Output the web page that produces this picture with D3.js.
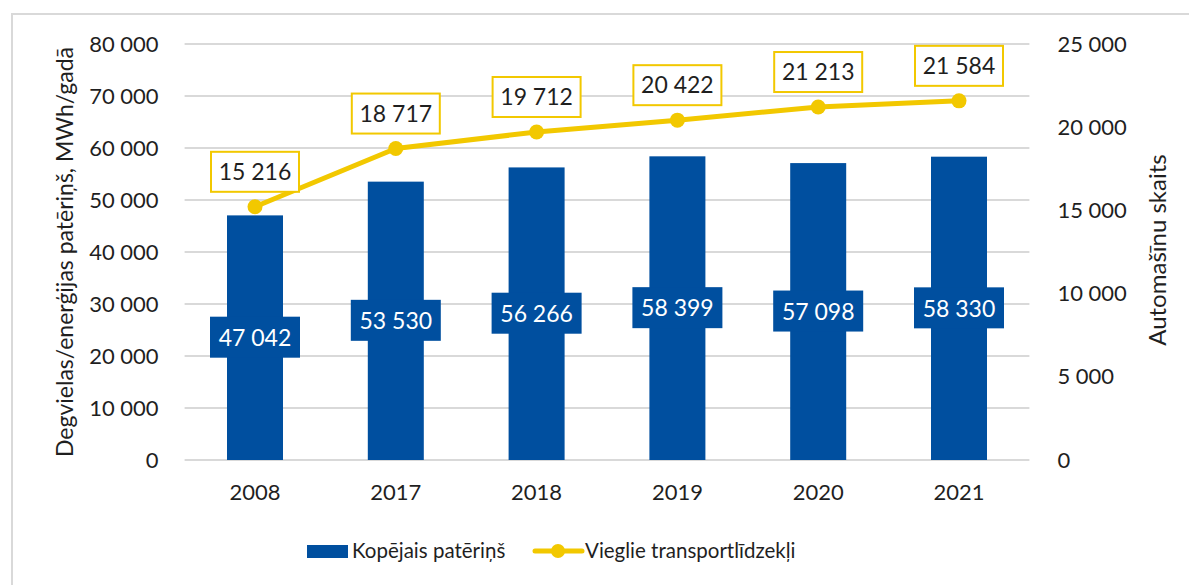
<!DOCTYPE html>
<html><head><meta charset="utf-8">
<script src="https://cdn.jsdelivr.net/npm/d3@7"></script>
<style>body{margin:0;background:#fff;} svg{display:block;font-family:Lato, "Open Sans", sans-serif;}</style>
</head><body>
<svg id="c" width="1189" height="585"></svg>
<script>
const categories = ["2008","2017","2018","2019","2020","2021"];
const consumption = [47042,53530,56266,58399,57098,58330];
const vehicles = [15216,18717,19712,20422,21213,21584];
const leftTicks = [0,10000,20000,30000,40000,50000,60000,70000,80000];
const rightTicks = [0,5000,10000,15000,20000,25000];
const seriesNames = ["Kopējais patēriņš","Vieglie transportlīdzekļi"];
const leftTitle = "Degvielas/enerģijas patēriņš, MWh/gadā";
const rightTitle = "Automašīnu skaits";

const BLUE = "#004f9f", YELLOW = "#f2c800", GRID = "#d9d9d9", TXT = "#1f1f1f";
const fmtS = v => d3.format(",")(v).replace(/,/g, " ");

const svg = d3.select("#c");
svg.append("rect").attr("x",12).attr("y",14).attr("width",1200).attr("height",600)
  .attr("fill","#fff").attr("stroke",GRID).attr("stroke-width",2);

const x = d3.scaleBand().domain(categories).range([184.6,1029.4]);
const yL = d3.scaleLinear().domain([0,80000]).range([460,44]);
const yR = d3.scaleLinear().domain([0,25000]).range([460,44]);

// grid
svg.append("g").selectAll("line").data(leftTicks).join("line")
  .attr("x1",184.6).attr("x2",1029.4).attr("y1",d=>yL(d)).attr("y2",d=>yL(d))
  .attr("stroke",GRID).attr("stroke-width",2);

// axes
const gl = svg.append("g").attr("transform","translate(184.6,0)")
  .call(d3.axisLeft(yL).tickValues(leftTicks).tickFormat(fmtS).tickSize(0).tickPadding(26));
gl.select(".domain").remove();
gl.selectAll("text").attr("font-size",22).attr("fill",TXT).attr("font-family","Lato");

const gr = svg.append("g").attr("transform","translate(1029.4,0)")
  .call(d3.axisRight(yR).tickValues(rightTicks).tickFormat(fmtS).tickSize(0).tickPadding(28));
gr.select(".domain").remove();
gr.selectAll("text").attr("font-size",22).attr("fill",TXT).attr("font-family","Lato");

const gx = svg.append("g").attr("transform","translate(0,460)")
  .call(d3.axisBottom(x).tickSize(0).tickPadding(24));
gx.select(".domain").remove();
gx.selectAll("text").attr("font-size",22).attr("fill",TXT).attr("font-family","Lato");

// bars
const bw = 56;
svg.append("g").selectAll("rect").data(consumption).join("rect")
  .attr("x",(d,i)=>x(categories[i])+x.bandwidth()/2-bw/2).attr("width",bw)
  .attr("y",d=>yL(d)).attr("height",d=>yL(0)-yL(d)).attr("fill",BLUE);

// bar labels
const bl = svg.append("g").selectAll("g").data(consumption).join("g")
  .attr("transform",(d,i)=>`translate(${x(categories[i])+x.bandwidth()/2},${(yL(d)+yL(0))/2})`);
bl.append("rect").attr("x",-45).attr("y",-21).attr("width",90).attr("height",41).attr("fill",BLUE);
bl.append("text").attr("text-anchor","middle").attr("dy","0.36em").attr("font-size",23)
  .attr("fill","#fff").text(d=>fmtS(d));

// line
const line = d3.line().x((d,i)=>x(categories[i])+x.bandwidth()/2).y(d=>yR(d));
svg.append("path").datum(vehicles).attr("d",line).attr("fill","none")
  .attr("stroke",YELLOW).attr("stroke-width",5).attr("stroke-linejoin","round");
svg.append("g").selectAll("circle").data(vehicles).join("circle")
  .attr("cx",(d,i)=>x(categories[i])+x.bandwidth()/2).attr("cy",d=>yR(d)).attr("r",7.5).attr("fill",YELLOW);

const ll = svg.append("g").selectAll("g").data(vehicles).join("g")
  .attr("transform",(d,i)=>`translate(${x(categories[i])+x.bandwidth()/2},${yR(d)-35})`);
ll.append("rect").attr("x",-44).attr("y",-20).attr("width",88).attr("height",40)
  .attr("fill","#fff").attr("stroke",YELLOW).attr("stroke-width",2);
ll.append("text").attr("text-anchor","middle").attr("dy","0.36em").attr("font-size",23)
  .attr("fill",TXT).text(d=>fmtS(d));

// axis titles
svg.append("text").attr("transform","translate(73,252) rotate(-90)").attr("text-anchor","middle")
  .attr("font-size",23).attr("fill",TXT).text(leftTitle);
svg.append("text").attr("transform","translate(1166,250) rotate(-90)").attr("text-anchor","middle")
  .attr("font-size",24).attr("fill",TXT).text(rightTitle);

// legend
const lg = svg.append("g");
lg.append("rect").attr("x",307).attr("y",545).attr("width",41).attr("height",13).attr("fill",BLUE);
lg.append("text").attr("x",352).attr("y",551).attr("dy","0.36em").attr("font-size",20.5).attr("fill",TXT).text(seriesNames[0]);
lg.append("line").attr("x1",535).attr("x2",582).attr("y1",551).attr("y2",551).attr("stroke",YELLOW).attr("stroke-width",5).attr("stroke-linecap","round");
lg.append("circle").attr("cx",558).attr("cy",551).attr("r",7).attr("fill",YELLOW);
lg.append("text").attr("x",585).attr("y",551).attr("dy","0.36em").attr("font-size",20.5).attr("fill",TXT).text(seriesNames[1]);
</script>
</body></html>
